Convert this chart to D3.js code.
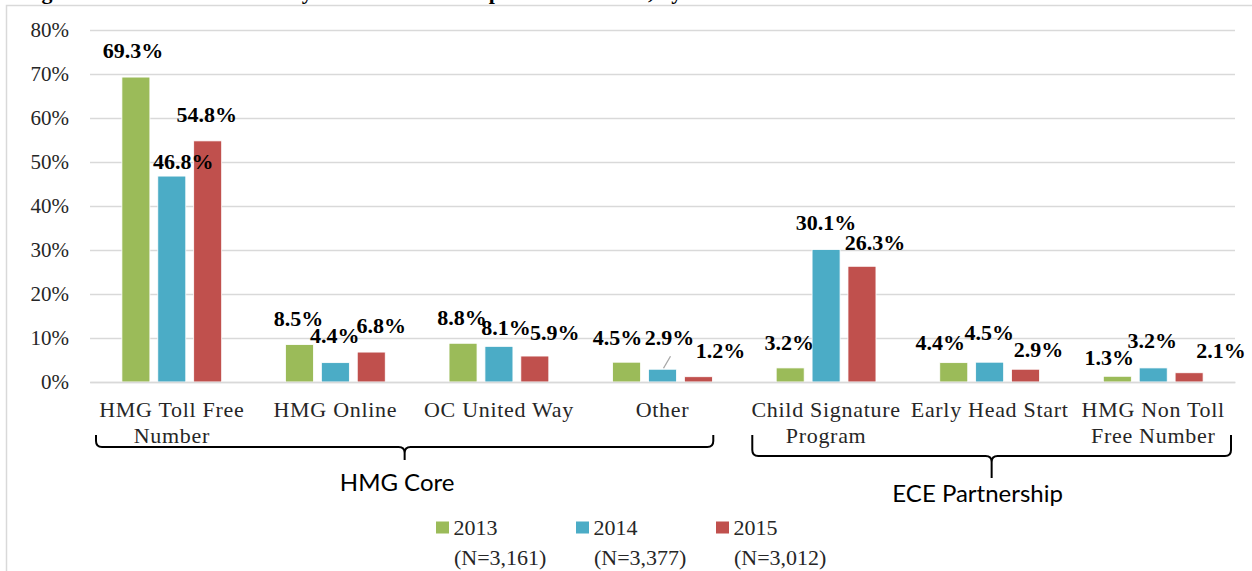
<!DOCTYPE html>
<html>
<head>
<meta charset="utf-8">
<script src="https://cdn.jsdelivr.net/npm/d3@7"></script>
<style>
  body { margin: 0; background: #fff; }
  svg { display: block; }
</style>
</head>
<body>
<div id="chart"></div>
<script>
  // data
  const categories = [
    "HMG Toll Free\nNumber",
    "HMG Online",
    "OC United Way",
    "Other",
    "Child Signature\nProgram",
    "Early Head Start",
    "HMG Non Toll\nFree Number"
  ];
  const years = ["2013", "2014", "2015"];
  const sampleSizes = ["(N=3,161)", "(N=3,377)", "(N=3,012)"];
  const values2013 = [69.3, 8.5, 8.8, 4.5, 3.2, 4.4, 1.3];
  const values2014 = [46.8, 4.4, 8.1, 2.9, 30.1, 4.5, 3.2];
  const values2015 = [54.8, 6.8, 5.9, 1.2, 26.3, 2.9, 2.1];
  const yTicks = [0, 10, 20, 30, 40, 50, 60, 70, 80];
  const groupNames = ["HMG Core", "ECE Partnership"];
  const groupSpans = [[0, 3], [4, 6]];

  const colors = ["#9bbb59", "#4bacc6", "#c0504d"];
  const series = [values2013, values2014, values2015];

  // hand placed label nudges (dx, dy from bar top centre), as in the original
  const labelNudge = [
    [[-3, -19], [-1, -19], [-1, -18], [-9, -17], [-1, -18], [-13.5, -13], [-8, -11]],
    [[11.5, -7], [-0.5, -20], [7, -11], [7, -24], [0, -20], [-0.5, -22], [-1, -20]],
    [[-1, -19], [10, -19], [20, -16], [22, -19], [13, -16], [13, -12], [32, -15]]
  ];

  const width = 1252;
  const height = 571;
  const margin = { top: 30, bottom: 189, left: 90, right: 17 };
  const serif = "'Liberation Serif', 'Times New Roman', serif";

  const svg = d3
    .select("#chart")
    .append("svg")
    .attr("width", width)
    .attr("height", height);

  // cut off title at the very top
  svg
    .append("text")
    .attr("x", 22)
    .attr("y", -1)
    .attr("font-family", serif)
    .attr("font-weight", "bold")
    .attr("font-size", 22)
    .attr("fill", "#000")
    .text("Figure 4: The Method of Entry into the HMG Helpline Call Center, by Year");

  // frame
  svg
    .append("path")
    .attr("d", `M6.5,${height} V5.5 H${width}`)
    .attr("fill", "none")
    .attr("stroke", "#d9d9d9")
    .attr("stroke-width", 1.5);

  const x0 = d3
    .scaleBand()
    .domain(d3.range(categories.length))
    .range([margin.left, width - margin.right])
    .paddingInner(0.39)
    .paddingOuter(0.195);

  const x1 = d3
    .scaleBand()
    .domain(years)
    .range([0, x0.bandwidth()])
    .paddingInner(0.22);

  const y = d3
    .scaleLinear()
    .domain([0, 80])
    .range([height - margin.bottom, margin.top]);

  // y axis + gridlines
  const yAxis = (g) => {
    g.attr("transform", `translate(${margin.left}, 0)`)
      .call(
        d3
          .axisLeft(y)
          .tickValues(yTicks)
          .tickSizeInner(-(width - margin.left - margin.right))
          .tickSizeOuter(0)
          .tickPadding(21)
          .tickFormat((d) => d + "%")
      )
      .call((g) => g.select(".domain").remove());
    g.selectAll(".tick line")
      .attr("stroke", "#d9d9d9")
      .attr("stroke-width", 1.5);
    g.selectAll(".tick text")
      .attr("font-family", serif)
      .attr("font-size", 21)
      .attr("fill", "#262626");
  };
  svg.append("g").call(yAxis);

  // bars
  series.forEach((vals, s) => {
    svg
      .append("g")
      .selectAll("rect")
      .data(vals)
      .join("rect")
      .attr("x", (d, i) => x0(i) + x1(years[s]))
      .attr("y", (d) => y(d))
      .attr("width", x1.bandwidth())
      .attr("height", (d) => y(0) - y(d))
      .attr("fill", colors[s])
      .attr("stroke", "#fff")
      .attr("stroke-width", 0.8);
  });

  // leader line for the small "Other" 2014 label
  svg
    .append("line")
    .attr("x1", x0(3) + x1("2014") + x1.bandwidth() / 2 + 8)
    .attr("y1", y(values2014[3]) - 13)
    .attr("x2", x0(3) + x1("2014") + x1.bandwidth() / 2 + 1)
    .attr("y2", y(values2014[3]) - 1)
    .attr("stroke", "#a6a6a6")
    .attr("stroke-width", 1.3);

  // data labels
  series.forEach((vals, s) => {
    svg
      .append("g")
      .selectAll("text")
      .data(vals)
      .join("text")
      .attr("x", (d, i) => x0(i) + x1(years[s]) + x1.bandwidth() / 2 + labelNudge[s][i][0])
      .attr("y", (d, i) => y(d) + labelNudge[s][i][1])
      .attr("text-anchor", "middle")
      .attr("font-family", serif)
      .attr("font-weight", "bold")
      .attr("font-size", 22)
      .attr("fill", "#000")
      .text((d) => d.toFixed(1) + "%");
  });

  // x axis with wrapped category names
  const xAxis = (g) => {
    g.attr("transform", `translate(0, ${y(0)})`)
      .call(d3.axisBottom(x0).tickSize(0).tickFormat(""));
    g.select(".domain").attr("stroke", "#d9d9d9").attr("stroke-width", 1.5);
    g.selectAll(".tick text").remove();
    g.selectAll(".tick")
      .append("text")
      .attr("text-anchor", "middle")
      .attr("font-family", serif)
      .attr("font-size", 22)
      .attr("letter-spacing", 0.7)
      .attr("fill", "#262626")
      .selectAll("tspan")
      .data((i) => categories[i].split("\n"))
      .join("tspan")
      .attr("x", 0)
      .attr("y", (d, k) => 34.5 + k * 26)
      .text((d) => d);
  };
  svg.append("g").call(xAxis);

  // curly brackets under the category groups
  const braceLayout = [
    { inset: [6, -31], top: 435, bar: 447, tip: 460, textX: -7.5, textY: 491 },
    { inset: [8, -4], top: 435, bar: 456, tip: 478, textX: -14, textY: 502 }
  ];
  const step = x0.step();
  groupSpans.forEach((span, gi) => {
    const lay = braceLayout[gi];
    const left = x0(span[0]) - x0.paddingOuter() * step + lay.inset[0];
    const right = x0(span[1]) + x0.bandwidth() + x0.paddingOuter() * step + lay.inset[1];
    const cx = (left + right) / 2;
    const r = 6;
    const path =
      `M${left},${lay.top} V${lay.bar - r} Q${left},${lay.bar} ${left + r},${lay.bar} ` +
      `H${cx - r} Q${cx},${lay.bar} ${cx},${lay.bar + r} V${lay.tip} ` +
      `M${right},${lay.top} V${lay.bar - r} Q${right},${lay.bar} ${right - r},${lay.bar} ` +
      `H${cx + r} Q${cx},${lay.bar} ${cx},${lay.bar + r}`;
    svg
      .append("path")
      .attr("d", path)
      .attr("fill", "none")
      .attr("stroke", "#000")
      .attr("stroke-width", 2);
    svg
      .append("text")
      .attr("x", cx + lay.textX)
      .attr("y", lay.textY)
      .attr("text-anchor", "middle")
      .attr("font-family", "Lato, 'Open Sans', sans-serif")
      .attr("font-size", 24)
      .attr("fill", "#000")
      .text(groupNames[gi]);
  });

  // legend
  const legend = svg
    .append("g")
    .selectAll("g")
    .data(years)
    .join("g")
    .attr("transform", (d, i) => `translate(${436 + i * 140}, 521.5)`);
  legend
    .append("rect")
    .attr("width", 13)
    .attr("height", 12)
    .attr("fill", (d, i) => colors[i]);
  legend
    .append("text")
    .attr("font-family", serif)
    .attr("font-size", 22)
    .attr("fill", "#262626")
    .selectAll("tspan")
    .data((d, i) => [d, sampleSizes[i]])
    .join("tspan")
    .attr("x", (d, k) => (k === 0 ? 17.5 : 18))
    .attr("y", (d, k) => 13 + k * 30.5)
    .text((d) => d);
</script>
</body>
</html>
